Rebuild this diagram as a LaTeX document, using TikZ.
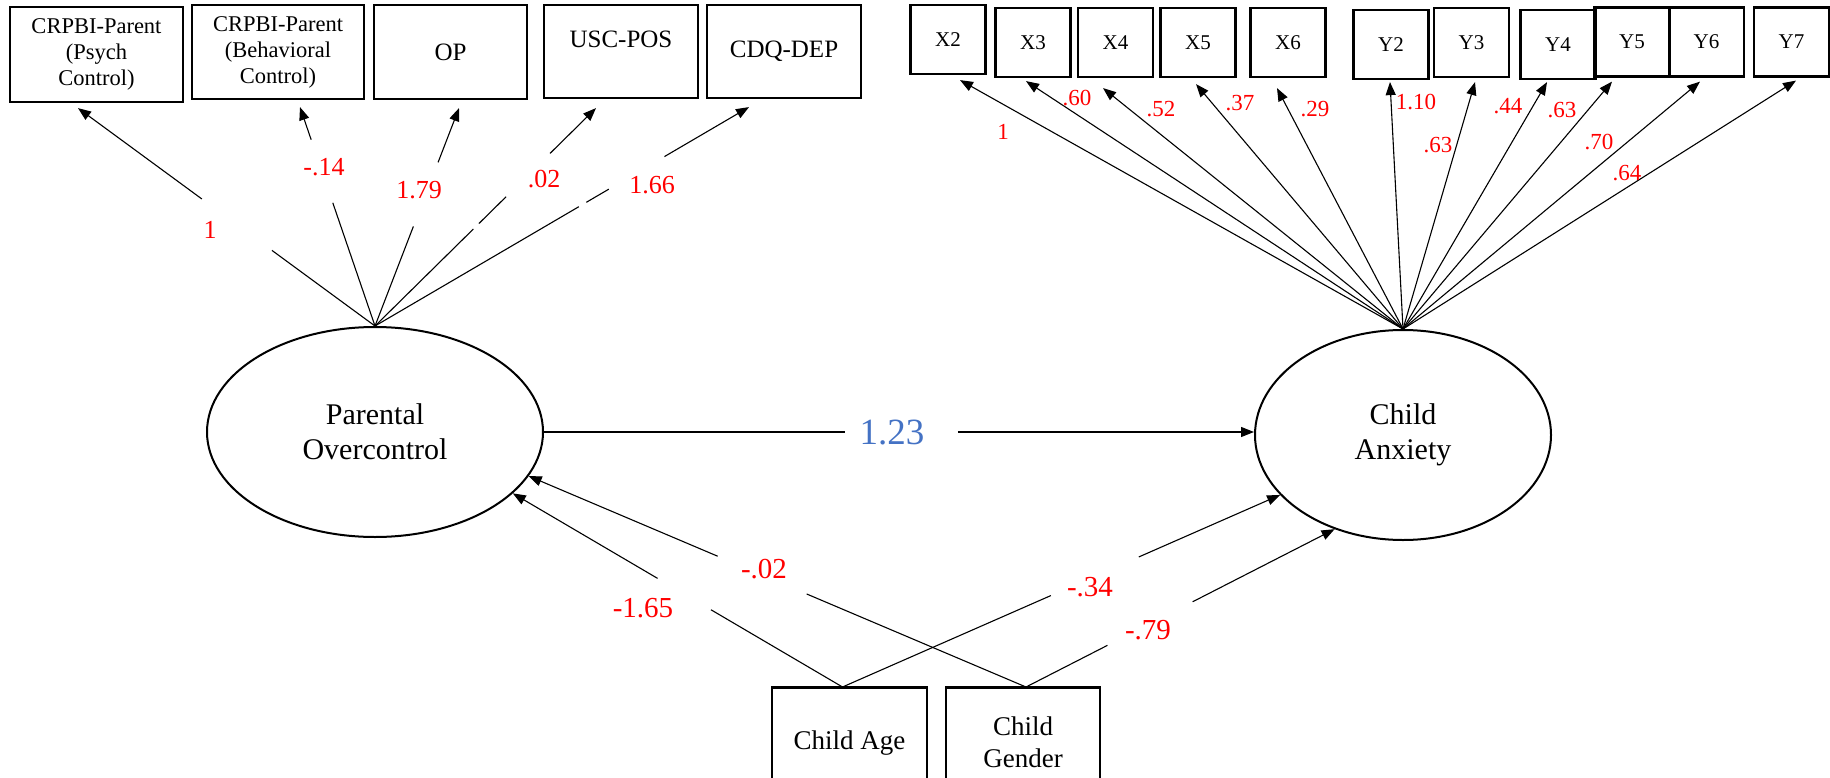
\documentclass[tikz,border=0pt]{standalone}
\usepackage{fontspec}
\setmainfont{Liberation Serif}
\usetikzlibrary{arrows.meta,calc,shapes.geometric}
\definecolor{coefred}{RGB}{255,0,0}
\definecolor{pathblue}{RGB}{68,114,196}

\begin{document}
\begin{tikzpicture}[x=1pt,y=-1pt,
  ind/.style={draw,line width=2.2pt,inner sep=0pt,align=center},
  lat/.style={draw,ellipse,line width=2pt,inner sep=0pt,align=center,
    font=\fontsize{30}{35}\selectfont},
  ln/.style={line width=1.1pt},
  arr/.style={ln,-{Triangle[length=13pt,width=10pt]}},
  coefL/.style={text=coefred,inner sep=0pt,font=\fontsize{26}{30}\selectfont},
  coefB/.style={text=coefred,inner sep=0pt,font=\fontsize{29}{34}\selectfont},
  coefR/.style={text=coefred,inner sep=0pt,font=\fontsize{23}{27}\selectfont},
  smallbox/.style={ind,minimum width=75pt,minimum height=69pt,
    font=\fontsize{21}{25}\selectfont},
]
\useasboundingbox (0,0) rectangle (1830,778);

% ---------- parental overcontrol indicators ----------
\node[ind,minimum width=173pt,minimum height=95pt,font=\fontsize{22.5}{26}\selectfont]
  (b1) at (96.5,54.5) {CRPBI-Parent\\(Psych\\Control)};
\node[ind,minimum width=172pt,minimum height=94pt,font=\fontsize{22.5}{26}\selectfont]
  (b2) at (278,52) {CRPBI-Parent\\(Behavioral\\Control)};
\node[ind,minimum width=153pt,minimum height=94pt,font=\fontsize{25}{30}\selectfont]
  (b3) at (450.5,52) {OP};
\node[ind,minimum width=154pt,minimum height=93pt] (b4) at (621,51.5) {};
\node[font=\fontsize{25}{30}\selectfont,inner sep=0pt] (b4t) at (621,39) {USC-POS};
\node[ind,minimum width=154pt,minimum height=93pt,font=\fontsize{25}{30}\selectfont]
  (b5) at (784,51.5) {CDQ-DEP};

% ---------- child anxiety indicators ----------
\node[smallbox] (x2) at (948,39.5) {X2};
\node[smallbox] (x3) at (1033,42.5) {X3};
\node[smallbox] (x4) at (1115.5,42.5) {X4};
\node[smallbox] (x5) at (1198,42.5) {X5};
\node[smallbox] (x6) at (1288,42.5) {X6};
\node[smallbox] (y2) at (1391,44.5) {Y2};
\node[smallbox] (y3) at (1471.5,42.5) {Y3};
\node[smallbox] (y4) at (1558,44.5) {Y4};
\node[smallbox] (y5) at (1632,42) {Y5};
\node[smallbox] (y6) at (1706.5,42) {Y6};
\node[smallbox] (y7) at (1791.5,42) {Y7};

% ---------- latent variables ----------
\node[lat,minimum width=336pt,minimum height=210pt] (po) at (375,432)
  {Parental\\Overcontrol};
\node[lat,minimum width=296pt,minimum height=210pt] (ca) at (1403,435)
  {Child\\Anxiety};

% ---------- covariates ----------
\node[ind,line width=1.5pt,minimum width=155pt,minimum height=110pt,anchor=north,
  font=\fontsize{27}{32}\selectfont] (age) at (849.5,687) {Child Age};
\node[ind,line width=1.5pt,minimum width=154pt,minimum height=110pt,anchor=north,
  font=\fontsize{27}{32}\selectfont] (gen) at (1023,687) {Child\\Gender};
\draw[line width=3pt] (age.north west) -- (age.north east);
\draw[line width=3pt] (gen.north west) -- (gen.north east);

% ---------- anchor points ----------
\coordinate (pt) at (po.north);
\coordinate (ct) at (ca.north);
\coordinate (t1) at ($(b1.south)+(-18.5,5)$);
\coordinate (t2) at ($(b2.south)+(22,7)$);
\coordinate (t3) at ($(b3.south)+(8.5,8)$);
\coordinate (t4) at ($(b4.south)+(-25,9)$);
\coordinate (t5) at ($(b5.south)+(-35,8)$);
\coordinate (as) at ($(age.north)+(-7,0)$);
\coordinate (gs) at ($(gen.north)+(3,0)$);

% ---------- loadings: parental overcontrol ----------
\draw[ln] (pt) -- ($(pt)!.347!(t1)$);
\draw[arr] ($(pt)!.583!(t1)$) -- (t1);
\draw[ln] (pt) -- ($(pt)!.563!(t2)$);
\draw[arr] ($(pt)!.851!(t2)$) -- (t2);
\draw[ln] (pt) -- ($(pt)!.457!(t3)$);
\draw[arr] ($(pt)!.751!(t3)$) -- (t3);
\draw[ln] (pt) -- ($(pt)!.445!(t4)$);
\draw[ln] ($(pt)!.47!(t4)$) -- ($(pt)!.593!(t4)$);
\draw[arr] ($(pt)!.792!(t4)$) -- (t4);
\draw[ln] (pt) -- ($(pt)!.545!(t5)$);
\draw[ln] ($(pt)!.565!(t5)$) -- ($(pt)!.625!(t5)$);
\draw[arr] ($(pt)!.774!(t5)$) -- (t5);

\node[coefL] (l1) at (210,230) {1};
\node[coefL] (l2) at (324,167) {-.14};
\node[coefL] (l3) at (419,190) {1.79};
\node[coefL] (l4) at (544,179) {.02};
\node[coefL] (l5) at (652,185) {1.66};

% ---------- loadings: child anxiety ----------
\draw[arr] (ct) -- ($(x2.south)+(12,5)$);
\draw[arr] (ct) -- ($(x3.south)+(-7,3)$);
\draw[arr] (ct) -- ($(x4.south)+(-12.5,10)$);
\draw[arr] (ct) -- ($(x5.south)+(-2,6)$);
\draw[arr] (ct) -- ($(x6.south)+(-11,10)$);
\draw[arr] (ct) -- ($(y2.south)+(-1,2)$);
\draw[arr] (ct) -- ($(y3.south)+(3.5,4)$);
\draw[arr] (ct) -- ($(y4.south)+(-11,2)$);
\draw[arr] (ct) -- ($(y5.south)+(-20,4)$);
\draw[arr] (ct) -- ($(y6.south)+(-6.5,4)$);
\draw[arr] (ct) -- ($(y7.south)+(4.5,3)$);

\node[coefR] (r1) at (1003,132) {1};
\node[coefR] (r2) at (1077,98) {.60};
\node[coefR] (r3) at (1161,109) {.52};
\node[coefR] (r4) at (1240,103) {.37};
\node[coefR] (r5) at (1315,109) {.29};
\node[coefR] (r6) at (1416,102) {1.10};
\node[coefR] (r7) at (1438,145) {.63};
\node[coefR] (r8) at (1508,106) {.44};
\node[coefR] (r9) at (1562,110) {.63};
\node[coefR] (r10) at (1599,142) {.70};
\node[coefR] (r11) at (1627,173) {.64};

% ---------- structural path ----------
\coordinate (h2) at (po.east -| ca.west);
\draw[ln] (po.east) -- ($(po.east)!.424!(h2)$);
\draw[arr] ($(po.east)!.583!(h2)$) -- (h2);
\node[text=pathblue,inner sep=0pt,font=\fontsize{37}{42}\selectfont] (pc) at (892,433) {1.23};

% ---------- covariate paths ----------
\draw[ln] (as) -- ($(as)!.399!(po.-24)$);
\draw[arr] ($(as)!.561!(po.-24)$) -- (po.-24);
\draw[ln] (as) -- ($(as)!.476!(ca.-154)$);
\draw[arr] ($(as)!.677!(ca.-154)$) -- (ca.-154);
\draw[ln] (gs) -- ($(gs)!.441!(po.-16)$);
\draw[arr] ($(gs)!.62!(po.-16)$) -- (po.-16);
\draw[ln] (gs) -- ($(gs)!.264!(ca.-126)$);
\draw[arr] ($(gs)!.54!(ca.-126)$) -- (ca.-126);

\node[coefB] (c1) at (643,608) {-1.65};
\node[coefB] (c2) at (764,569) {-.02};
\node[coefB] (c3) at (1090,587) {-.34};
\node[coefB] (c4) at (1148,630) {-.79};
\end{tikzpicture}
\end{document}
